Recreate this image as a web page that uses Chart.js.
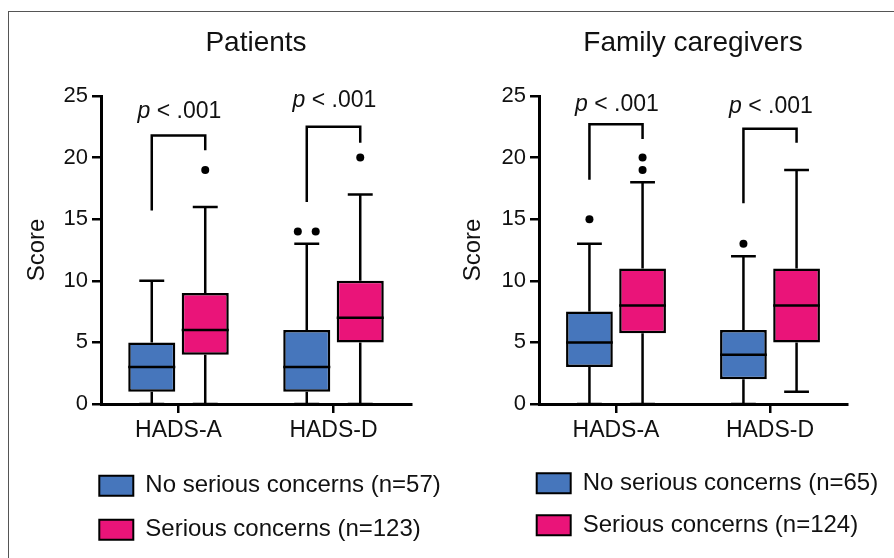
<!DOCTYPE html>
<html><head><meta charset="utf-8">
<script src="https://cdn.jsdelivr.net/npm/chart.js@4.4.1/dist/chart.umd.min.js"></script>
<style>
html,body{margin:0;padding:0;background:#fff;width:894px;height:558px;overflow:hidden;}
#frame{position:absolute;left:8px;top:11px;width:1000px;height:1000px;border-left:1px solid #555;border-top:1px solid #555;}
#c1{position:absolute;left:0;top:0;}
#c2{position:absolute;left:447px;top:0;}
</style></head><body>
<div id="frame"></div>
<canvas id="c1" width="450" height="558"></canvas>
<canvas id="c2" width="447" height="558"></canvas>
<script>
// ---------- data ----------
const categories = ['HADS-A', 'HADS-D'];
const yTickValues = [0, 5, 10, 15, 20, 25];

const patientsNoMin = [0, 0];
const patientsNoQ1 = [1, 1];
const patientsNoMedian = [3, 3];
const patientsNoQ3 = [5, 6];
const patientsNoMax = [10, 13];
const patientsNoOutliers = [[], [14, 14]];

const patientsSerMin = [0, 0];
const patientsSerQ1 = [4, 5];
const patientsSerMedian = [6, 7];
const patientsSerQ3 = [9, 10];
const patientsSerMax = [16, 17];
const patientsSerOutliers = [[19], [20]];

const familyNoMin = [0, 0];
const familyNoQ1 = [3, 2];
const familyNoMedian = [5, 4];
const familyNoQ3 = [7.5, 6];
const familyNoMax = [13, 12];
const familyNoOutliers = [[15], [13]];

const familySerMin = [0, 1];
const familySerQ1 = [5.75, 5];
const familySerMedian = [8, 8];
const familySerQ3 = [11, 11];
const familySerMax = [18, 19];
const familySerOutliers = [[19, 20], []];

// significance brackets (score units)
const patientsBracketTop = [21.8, 22.5];
const patientsBracketLeft = [15.7, 16.4];
const patientsBracketRight = [20.6, 21.2];
const patientsPLabelY = [23.2, 24.1];
const familyBracketTop = [22.7, 22.35];
const familyBracketLeft = [18.2, 16.3];
const familyBracketRight = [21.5, 21.2];
const familyPLabelY = [23.8, 23.6];
const pLabelParts = ['p', ' < .001'];

const patientsLegend = ['No serious concerns (n=57)', 'Serious concerns (n=123)'];
const familyLegend = ['No serious concerns (n=65)', 'Serious concerns (n=124)'];

// ---------- styling ----------
const FONT = "'Liberation Sans', Arial, Helvetica, sans-serif";
const BLUE = '#4676BC';
const PINK = '#EA1479';
Chart.defaults.font.family = FONT;
Chart.defaults.color = '#111';

// place the legend block under the plot (left-aligned, stacked rows)
const legendPlacer = {
  id: 'legendPlacer',
  afterLayout(chart, args, opts) {
    const lg = chart.legend;
    if (!lg) return;
    lg.left = opts.left;
    lg.right = chart.width;
    lg.width = lg.right - lg.left;
  }
};

const boxExtras = {
  id: 'boxExtras',
  afterDatasetsDraw(chart, args, opts) {
    const ctx = chart.ctx, y = chart.scales.y;
    ctx.save();
    ctx.strokeStyle = '#000';
    ctx.fillStyle = '#000';
    ctx.lineWidth = 2.5;
    ctx.lineCap = 'butt';
    chart.data.datasets.forEach((ds, di) => {
      const meta = chart.getDatasetMeta(di);
      meta.data.forEach((bar, i) => {
        const cx = bar.x, w = bar.width, cap = w * 0.53;
        const yq1 = y.getPixelForValue(ds.data[i][0]);
        const yq3 = y.getPixelForValue(ds.data[i][1]);
        const yMin = y.getPixelForValue(ds.whiskerMin[i]);
        const yMax = y.getPixelForValue(ds.whiskerMax[i]);
        const yMed = y.getPixelForValue(ds.median[i]);
        ctx.beginPath();
        ctx.moveTo(cx, yq3); ctx.lineTo(cx, yMax);
        ctx.moveTo(cx - cap / 2, yMax); ctx.lineTo(cx + cap / 2, yMax);
        ctx.moveTo(cx, yq1); ctx.lineTo(cx, yMin);
        ctx.moveTo(cx - cap / 2, yMin); ctx.lineTo(cx + cap / 2, yMin);
        ctx.moveTo(cx - w / 2, yMed); ctx.lineTo(cx + w / 2, yMed);
        ctx.stroke();
        const counts = {};
        ds.outliers[i].forEach(v => { counts[v] = (counts[v] || 0) + 1; });
        Object.keys(counts).forEach(k => {
          const n = counts[k];
          for (let j = 0; j < n; j++) {
            const ox = cx + (j - (n - 1) / 2) * w * 0.38;
            ctx.beginPath();
            ctx.arc(ox, y.getPixelForValue(+k), 4, 0, Math.PI * 2);
            ctx.fill();
          }
        });
      });
    });
    const m0 = chart.getDatasetMeta(0), m1 = chart.getDatasetMeta(1);
    ctx.lineJoin = 'miter';
    opts.top.forEach((t, i) => {
      const xl = m0.data[i].x, xr = m1.data[i].x;
      const yt = y.getPixelForValue(t);
      ctx.beginPath();
      ctx.moveTo(xl, y.getPixelForValue(opts.left[i]));
      ctx.lineTo(xl, yt);
      ctx.lineTo(xr, yt);
      ctx.lineTo(xr, y.getPixelForValue(opts.right[i]));
      ctx.stroke();
      ctx.fillStyle = '#111';
      ctx.textBaseline = 'alphabetic';
      ctx.textAlign = 'left';
      const italic = 'italic 23px ' + FONT, normal = '23px ' + FONT;
      ctx.font = italic; const w1 = ctx.measureText(opts.text[0]).width;
      ctx.font = normal; const w2 = ctx.measureText(opts.text[1]).width;
      const x0 = (xl + xr) / 2 + 1 - (w1 + w2) / 2;
      const yb = y.getPixelForValue(opts.labelY[i]);
      ctx.font = italic; ctx.fillText(opts.text[0], x0, yb);
      ctx.font = normal; ctx.fillText(opts.text[1], x0 + w1, yb);
    });
    ctx.restore();
  }
};

function series(label, color, q1, q3, mn, med, mx, out) {
  return {
    label: label,
    data: categories.map((c, i) => [q1[i], q3[i]]),
    whiskerMin: mn, median: med, whiskerMax: mx, outliers: out,
    backgroundColor: color,
    borderColor: '#000',
    borderWidth: 2.5,
    borderSkipped: false,
    categoryPercentage: 0.69,
    barPercentage: 0.88
  };
}

function build(id, title, datasets, extras, geo) {
  const axisCommon = {
    grid: { offset: false, drawOnChartArea: false, drawTicks: true, tickLength: 9, color: '#000', lineWidth: 2.5 },
    border: { display: true, color: '#000', width: 3 }
  };
  return new Chart(document.getElementById(id), {
    type: 'bar',
    data: { labels: categories, datasets: datasets },
    options: {
      responsive: false,
      animation: false,
      events: [],
      layout: { padding: { left: geo.padL, right: geo.padR, top: 0, bottom: geo.padB } },
      scales: {
        x: Object.assign({}, axisCommon, {
          offset: true,
          ticks: { color: '#111', font: { size: 23 }, padding: 4 },
          afterFit: s => { s.height = geo.xH; }
        }),
        y: Object.assign({}, axisCommon, {
          min: 0, max: 25,
          afterBuildTicks: s => { s.ticks = yTickValues.map(v => ({ value: v })); },
          ticks: { color: '#111', font: { size: 22 }, padding: 4 },
          title: { display: true, text: 'Score', color: '#111', font: { size: 24 }, padding: { top: geo.titlePT, bottom: 0 } },
          afterFit: s => { s.width = geo.yW; }
        })
      },
      plugins: {
        title: { display: true, text: title, fullSize: false, color: '#111', font: { size: 28, weight: 'normal' }, padding: { top: 26.8, bottom: 35.6 } },
        legend: {
          position: 'bottom', align: 'start', fullSize: true,
          labels: {
            boxWidth: 34, boxHeight: 20, padding: geo.legP, color: '#111', font: { size: 24 },
            generateLabels: chart => Chart.defaults.plugins.legend.labels.generateLabels(chart).map(l => Object.assign(l, { lineWidth: 2 }))
          }
        },
        legendPlacer: { left: geo.legLeft },
        tooltip: { enabled: false },
        boxExtras: extras
      }
    },
    plugins: [boxExtras, legendPlacer]
  });
}

build('c1', 'Patients', [
  series(patientsLegend[0], BLUE, patientsNoQ1, patientsNoQ3, patientsNoMin, patientsNoMedian, patientsNoMax, patientsNoOutliers),
  series(patientsLegend[1], PINK, patientsSerQ1, patientsSerQ3, patientsSerMin, patientsSerMedian, patientsSerMax, patientsSerOutliers)
], { top: patientsBracketTop, left: patientsBracketLeft, right: patientsBracketRight, labelY: patientsPLabelY, text: pLabelParts },
{ padL: 10, padR: 39, padB: 6.3, xH: 49.7, yW: 91, titlePT: 13.1, legP: 20, legLeft: 79.3 });

build('c2', 'Family caregivers', [
  series(familyLegend[0], BLUE, familyNoQ1, familyNoQ3, familyNoMin, familyNoMedian, familyNoMax, familyNoOutliers),
  series(familyLegend[1], PINK, familySerQ1, familySerQ3, familySerMin, familySerMedian, familySerMax, familySerOutliers)
], { top: familyBracketTop, left: familyBracketLeft, right: familyBracketRight, labelY: familyPLabelY, text: pLabelParts },
{ padL: 5, padR: 47, padB: 10.7, xH: 49.3, yW: 87, titlePT: 7.2, legP: 18, legLeft: 71.7 });
</script>
</body></html>
